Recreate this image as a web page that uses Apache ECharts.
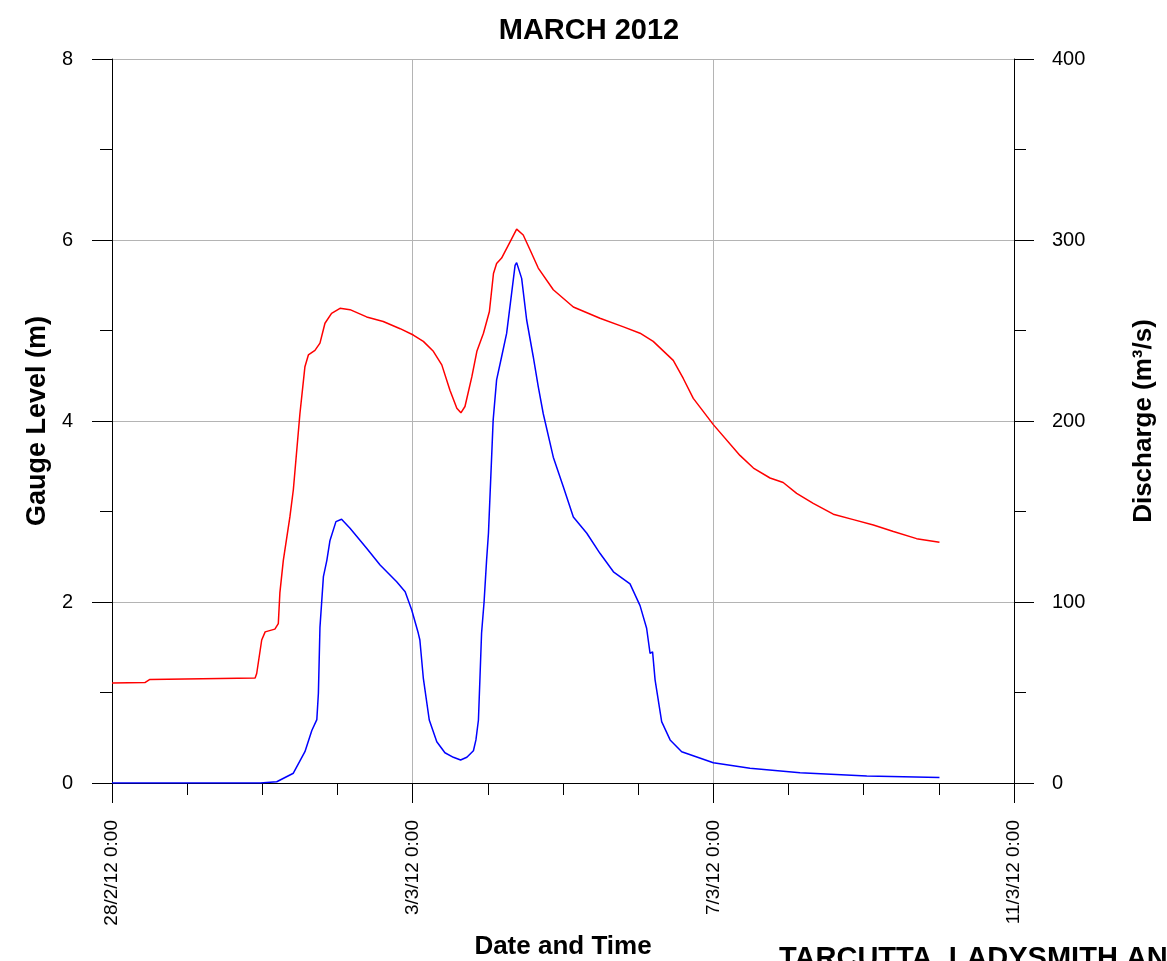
<html>
<head>
    <meta charset="utf-8">
    <title>MARCH 2012</title>
    <script src="https://cdn.jsdelivr.net/npm/echarts@6/dist/echarts.min.js"></script>
</head>
<body style="margin:0;">
    <div id="chartmain" style="width:1167px; height:961px;"></div>
<script type="text/javascript">
    // hours since 28/2/12 0:00
    var dateLabels = ['28/2/12 0:00', '3/3/12 0:00', '7/3/12 0:00', '11/3/12 0:00'];

    // gauge level (m), red
    var gaugeHours = [0, 10.5, 12.1, 45.7, 46.2, 47.8, 48.9, 52.0, 53.1, 53.6, 54.7, 56.8, 57.9, 60.0, 61.6, 62.7, 64.8, 66.4, 68.0, 70.1,
        72.8, 76.0, 81.3, 86.6, 92.0, 96.2, 99.4, 102.6, 105.3, 107.9, 110.1, 111.4, 112.7, 114.9, 116.5, 118.6, 120.5, 121.8, 122.8, 124.4,
        127.1, 129.2, 131.3, 133.5, 136.1, 140.9, 147.3, 155.8, 163.3, 168.6, 172.8, 179.2, 182.4, 185.6, 192.0, 200.5, 204.8, 210.1, 214.3,
        218.6, 223.9, 230.3, 236.7, 243.1, 249.5, 256.9, 264.2];
    var gaugeLevel = [1.105, 1.11, 1.145, 1.16, 1.21, 1.58, 1.67, 1.70, 1.76, 2.10, 2.46, 2.94, 3.24, 4.08, 4.60, 4.73, 4.78, 4.86, 5.08, 5.19,
        5.245, 5.23, 5.15, 5.10, 5.02, 4.95, 4.88, 4.77, 4.62, 4.34, 4.14, 4.09, 4.16, 4.49, 4.77, 4.97, 5.21, 5.63, 5.74, 5.80,
        5.98, 6.12, 6.055, 5.89, 5.69, 5.45, 5.26, 5.135, 5.04, 4.97, 4.88, 4.67, 4.47, 4.25, 3.96, 3.62, 3.48, 3.37, 3.32,
        3.20, 3.09, 2.97, 2.91, 2.85, 2.78, 2.70, 2.66];

    // discharge (m3/s), blue
    var flowHours = [0, 47.3, 52.6, 57.9, 61.6, 63.8, 65.4, 65.9, 66.4, 67.5, 68.6, 69.6, 71.5, 73.3, 76.0, 81.3, 85.6, 90.9, 93.6, 95.7,
        97.8, 98.3, 99.4, 101.3, 103.7, 106.3, 109.0, 111.3, 113.3, 115.4, 116.2, 117.0, 117.5, 118.0, 118.8, 119.6, 120.2, 121.7, 122.8, 124.4,
        126.0, 127.6, 128.7, 129.2, 130.8, 132.4, 134.5, 136.1, 137.7, 140.9, 144.1, 147.3, 151.6, 155.8, 160.1, 165.4, 168.6, 170.7, 171.8,
        172.6, 173.4, 175.5, 178.2, 181.9, 192.0, 203.7, 219.7, 241.0, 264.2];
    var flowValue = [0, 0, 0.7, 5.4, 17.3, 29, 35, 49.6, 86, 114, 123, 134, 144.4, 145.7, 140.7, 129.7, 120.4, 111.2, 105.7, 95.6,
        82.7, 79, 58, 34.8, 22.8, 16.7, 14.2, 12.7, 14.2, 17.8, 23.8, 34.8, 58.7, 82.7, 100, 123, 138, 200.5, 222.7, 235.5,
        248.4, 270.6, 286, 287.5, 278.8, 255.8, 235.5, 219, 204, 180, 163.7, 147, 138, 126.9, 116.7, 110, 98, 85.5, 71.6,
        72.5, 57, 33.9, 23.8, 17.3, 11.2, 8.1, 5.7, 3.9, 3.1];

    function pairs(xs, ys) {
        var out = [];
        for (var i = 0; i < xs.length; i++) out.push([xs[i], ys[i]]);
        return out;
    }

    var font = 'Liberation Sans, Arial, sans-serif';
    var black = '#000';
    var grey = '#b4b4b4';

    var myChart = echarts.init(document.getElementById('chartmain'));
    myChart.setOption({
        animation: false,
        backgroundColor: '#fff',
        title: {
            text: 'MARCH 2012',
            left: 584,
            top: 11,
            textAlign: 'center',
            textStyle: { fontFamily: font, fontWeight: 'bold', fontSize: 29, color: black }
        },
        grid: { left: 112, right: 153, top: 59, bottom: 178, outerBoundsMode: 'none', containLabel: false },
        xAxis: {
            type: 'value',
            min: 0,
            max: 288,
            interval: 96,
            name: 'Date and Time',
            nameLocation: 'middle',
            nameGap: 147,
            nameTextStyle: { fontFamily: font, fontWeight: 'bold', fontSize: 26, color: black },
            axisLine: { lineStyle: { color: black, width: 1 } },
            axisTick: { length: 20, lineStyle: { color: black } },
            minorTick: { show: true, splitNumber: 4, length: 12, lineStyle: { color: black } },
            axisLabel: {
                rotate: 90,
                margin: 37,
                fontFamily: font,
                fontSize: 19,
                color: black,
                formatter: function (v) { return dateLabels[Math.round(v / 96)]; }
            },
            splitLine: { show: true, lineStyle: { color: grey, width: 1 } }
        },
        yAxis: [{
            type: 'value',
            min: 0,
            max: 8,
            interval: 2,
            name: 'Gauge Level (m)',
            nameLocation: 'middle',
            nameRotate: 90,
            nameGap: 60,
            nameTextStyle: { fontFamily: font, fontWeight: 'bold', fontSize: 27, color: black },
            axisLine: { show: true, lineStyle: { color: black, width: 1 } },
            axisTick: { show: true, length: 20, lineStyle: { color: black } },
            minorTick: { show: true, splitNumber: 2, length: 12, lineStyle: { color: black } },
            axisLabel: { margin: 39, fontFamily: font, fontSize: 20, color: black },
            splitLine: { show: true, lineStyle: { color: grey, width: 1 } }
        }, {
            type: 'value',
            min: 0,
            max: 400,
            interval: 100,
            position: 'right',
            name: 'Discharge (m³/s)',
            nameLocation: 'middle',
            nameRotate: 90,
            nameGap: 117,
            nameTextStyle: { fontFamily: font, fontWeight: 'bold', fontSize: 26, color: black },
            axisLine: { show: true, lineStyle: { color: black, width: 1 } },
            axisTick: { show: true, length: 20, lineStyle: { color: black } },
            minorTick: { show: true, splitNumber: 2, length: 12, lineStyle: { color: black } },
            axisLabel: { margin: 38, fontFamily: font, fontSize: 20, color: black },
            splitLine: { show: false }
        }],
        graphic: [{
            type: 'text',
            left: 779,
            top: 944,
            style: { text: 'TARCUTTA, LADYSMITH AND', fontFamily: font, fontWeight: 'bold', fontSize: 29, fill: black }
        }],
        series: [{
            name: 'Gauge Level',
            type: 'line',
            yAxisIndex: 0,
            showSymbol: false,
            smooth: false,
            lineStyle: { color: '#ff0000', width: 1.5 },
            data: pairs(gaugeHours, gaugeLevel)
        }, {
            name: 'Discharge',
            type: 'line',
            yAxisIndex: 1,
            showSymbol: false,
            smooth: false,
            lineStyle: { color: '#0000ff', width: 1.5 },
            data: pairs(flowHours, flowValue)
        }]
    });
</script>
</body>
</html>
